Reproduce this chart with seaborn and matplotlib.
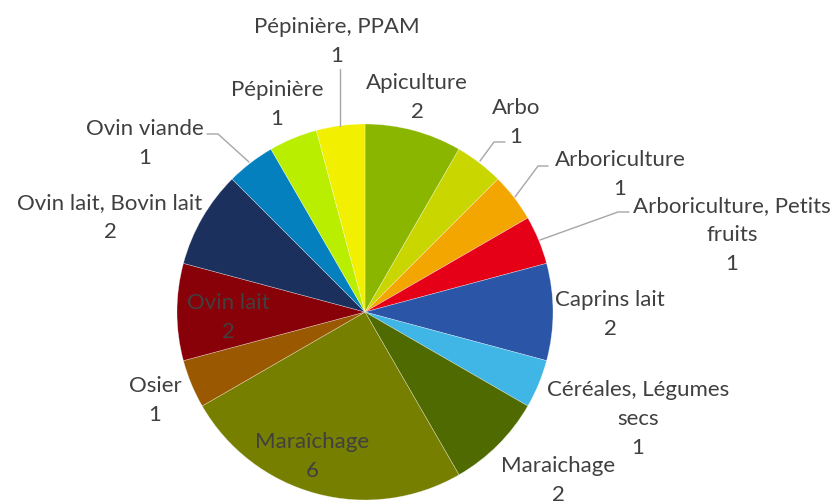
import numpy as np
import matplotlib
matplotlib.use("Agg")
import matplotlib.pyplot as plt
import seaborn as sns

# data, clockwise from 12 o'clock
categories = ["Apiculture", "Arbo", "Arboriculture", "Arboriculture, Petits\nfruits",
              "Caprins lait", "Céréales, Légumes\nsecs", "Maraichage", "Maraîchage",
              "Osier", "Ovin lait", "Ovin lait, Bovin lait", "Ovin viande",
              "Pépinière", "Pépinière, PPAM"]
counts = [2, 1, 1, 1, 2, 1, 2, 6, 1, 2, 2, 1, 1, 1]

colors = ["#8BB600", "#C9D600", "#F4A600", "#E50018", "#2B56A8", "#3FB6E6",
          "#4F6A00", "#767F00", "#9A5800", "#880008", "#1C305E", "#0480BF",
          "#B9EE00", "#F2F000"]

# label centres in pixels (first line)
label_pos = [(417, 83), (516, 108), (620, 160), (732, 206), (610, 300), (638, 390),
             (558, 466), (312, 442), (155, 386), (228, 303), (110, 203), (145, 129),
             (277, 90), (337, 27)]
# leader lines in pixels
leaders = {1: [(480, 162), (494, 143), (505, 143)],
           2: [(515, 198), (538, 167), (548, 167)],
           3: [(540, 241), (618, 213), (629, 213)],
           11: [(249, 163), (218, 135), (207, 135)],
           13: [(340, 127), (340, 70)]}

W, H = 832, 502
CX, CY, R = 365, 313, 188


def px(x, y):
    return (x - CX) / R, (CY - y) / R


sns.set_theme(style="white")
plt.rcParams["font.family"] = ["Lato", "DejaVu Sans"]

fig = plt.figure(figsize=(W / 100, H / 100), dpi=100)
ax = fig.add_axes([0, 0, 1, 1])
ax.pie(counts, colors=colors, startangle=90, counterclock=False, radius=1,
       wedgeprops=dict(linewidth=0.4, edgecolor="#ffffff80"))
ax.set_xlim((0 - CX) / R, (W - CX) / R)
ax.set_ylim((CY - H) / R, CY / R)
ax.set_aspect("equal")
ax.axis("off")

line_h = 29
for i, (lab, val) in enumerate(zip(categories, counts)):
    lx, ly = label_pos[i]
    lines = lab.split("\n") + [str(val)]
    for k, t in enumerate(lines):
        x, y = px(lx, ly + k * line_h)
        ax.text(x, y, t, ha="center", va="center", fontsize=16, color="#404040")
    if i in leaders:
        pts = [px(*p) for p in leaders[i]]
        ax.plot([p[0] for p in pts], [p[1] for p in pts], color="#A6A6A6", lw=1)

fig.savefig("out.png", dpi=100)
